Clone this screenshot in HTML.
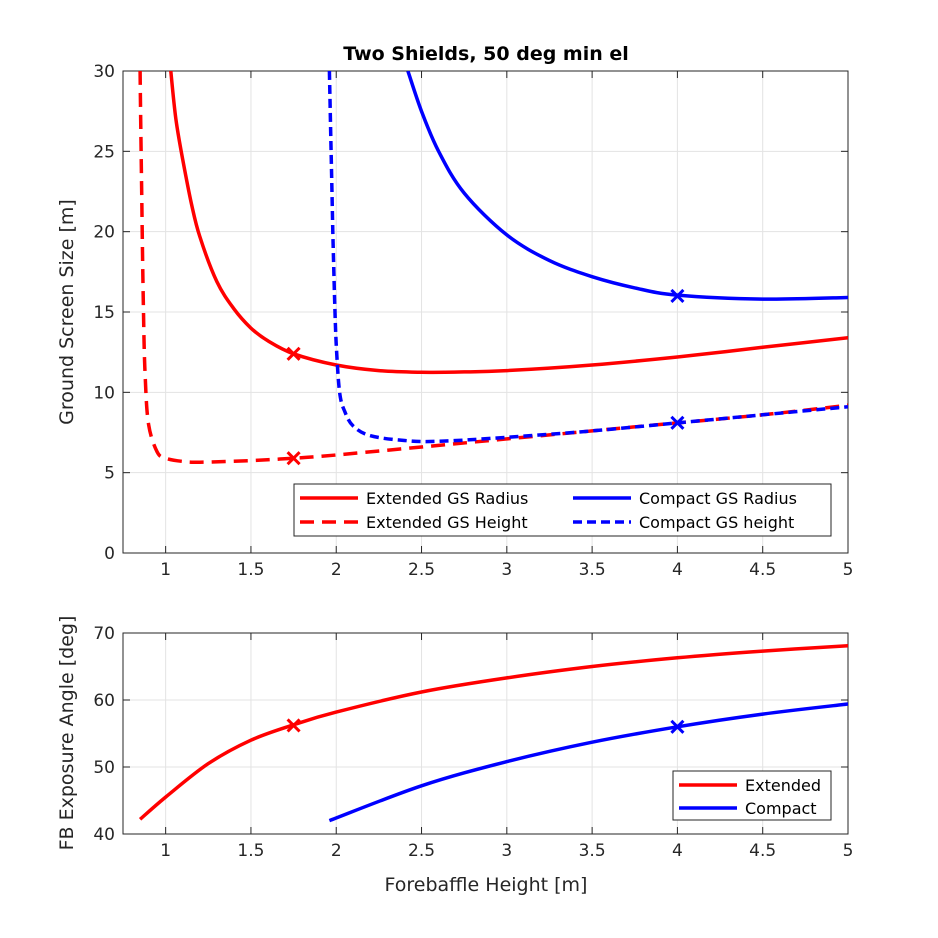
<!DOCTYPE html>
<html><head><meta charset="utf-8"><style>
html,body{margin:0;padding:0;background:#fff;}
svg{display:block;font-family:"DejaVu Sans","Liberation Sans",sans-serif;}
</style></head><body>
<svg id="chart" width="938" height="938" viewBox="0 0 938 938"></svg>
<script>
const xTicks=[1,1.5,2,2.5,3,3.5,4,4.5,5];
const xTickLabels=["1","1.5","2","2.5","3","3.5","4","4.5","5"];
const topYTicks=[0,5,10,15,20,25,30];
const botYTicks=[40,50,60,70];
const extRadX=[1.03,1.06,1.1,1.15,1.2,1.3,1.4,1.5,1.6,1.75,2,2.25,2.5,2.75,3,3.5,4,4.5,5];
const extRadY=[30,27,24.5,21.8,19.7,16.9,15.2,14.0,13.2,12.4,11.7,11.35,11.25,11.27,11.35,11.7,12.2,12.8,13.4];
const extHtX=[0.85,0.86,0.87,0.88,0.9,0.95,1.0,1.1,1.2,1.5,1.75,2,2.5,3,3.5,4,4.5,5];
const extHtY=[30,22,15,11,8,6.3,5.9,5.7,5.65,5.75,5.9,6.1,6.6,7.1,7.6,8.1,8.6,9.2];
const cmpRadX=[2.42,2.5,2.6,2.75,3,3.25,3.5,3.75,4,4.5,5];
const cmpRadY=[30,27.5,25,22.4,19.8,18.2,17.2,16.5,16.05,15.8,15.9];
const cmpHtX=[1.96,1.97,1.98,1.99,2.0,2.02,2.05,2.1,2.2,2.4,2.6,3,3.5,4,4.5,5];
const cmpHtY=[30,25,20,16,13,10,8.8,7.9,7.3,7.0,6.95,7.2,7.6,8.1,8.6,9.1];
const extAngX=[0.85,1,1.25,1.5,1.75,2,2.5,3,3.5,4,4.5,5];
const extAngY=[42.2,45.5,50.5,54,56.3,58.2,61.2,63.3,65,66.3,67.3,68.1];
const cmpAngX=[1.96,2.5,3,3.5,4,4.5,5];
const cmpAngY=[42,47.2,50.8,53.7,56,57.9,59.4];
const topMarkX=[1.75,1.75,4,4];
const topMarkY=[12.4,5.9,16,8.1];
const topMarkC=["red","red","blue","blue"];
const botMarkX=[1.75,4];
const botMarkY=[56.2,56];
const botMarkC=["red","blue"];

const NS="http://www.w3.org/2000/svg";
const svg=document.getElementById('chart');
function el(t,a,p){const e=document.createElementNS(NS,t);for(const k in a)e.setAttribute(k,a[k]);(p||svg).appendChild(e);return e;}
const L=123,R=848;
const sx=v=>L+(v-0.75)/(4.25)*(R-L);
const T1=71,B1=553,T2=633,B2=834;
const sy1=v=>B1-(v/30)*(B1-T1);
const sy2=v=>B2-((v-40)/30)*(B2-T2);

function axes(T,B,yt,sy,name){
  const g=el('g',{});
  
  
  el('rect',{x:L,y:T,width:R-L,height:B-T,fill:'#fff',stroke:'none'},g);
  xTicks.forEach(v=>el('line',{x1:sx(v),x2:sx(v),y1:T,y2:B,stroke:'#e3e3e3','stroke-width':1},g));
  yt.forEach(v=>el('line',{x1:L,x2:R,y1:sy(v),y2:sy(v),stroke:'#e3e3e3','stroke-width':1},g));
  el('rect',{x:L,y:T,width:R-L,height:B-T,fill:'none',stroke:'#262626','stroke-width':1},g);
  xTicks.forEach((v,i)=>{
    el('line',{x1:sx(v),x2:sx(v),y1:B,y2:B-7,stroke:'#262626'},g);
    el('line',{x1:sx(v),x2:sx(v),y1:T,y2:T+7,stroke:'#262626'},g);
    const t=el('text',{x:sx(v),y:B+22,'text-anchor':'middle','font-size':17,fill:'#262626'},g);t.textContent=xTickLabels[i];
    
    
  });
  yt.forEach(v=>{
    el('line',{x1:L,x2:L+7,y1:sy(v),y2:sy(v),stroke:'#262626'},g);
    el('line',{x1:R,x2:R-7,y1:sy(v),y2:sy(v),stroke:'#262626'},g);
    const t=el('text',{x:L-8,y:sy(v)+6,'text-anchor':'end','font-size':17,fill:'#262626'},g);t.textContent=v;
    
    
  });
}
axes(T1,B1,topYTicks,sy1,'top-axes');
axes(T2,B2,botYTicks,sy2,'bottom-axes');

function clip(id,T,B){const c=el('clipPath',{id});el('rect',{x:L,y:T,width:R-L,height:B-T},c);}
clip('c1',T1,B1);clip('c2',T2,B2);
function smooth(pts){
  let d='M'+pts[0][0].toFixed(1)+','+pts[0][1].toFixed(1);
  for(let i=0;i<pts.length-1;i++){
    const p0=pts[Math.max(0,i-1)],p1=pts[i],p2=pts[i+1],p3=pts[Math.min(pts.length-1,i+2)];
    const c1=[p1[0]+(p2[0]-p0[0])/6,p1[1]+(p2[1]-p0[1])/6];
    const c2=[p2[0]-(p3[0]-p1[0])/6,p2[1]-(p3[1]-p1[1])/6];
    d+=' C'+c1.map(v=>v.toFixed(1)).join(',')+' '+c2.map(v=>v.toFixed(1)).join(',')+' '+p2[0].toFixed(1)+','+p2[1].toFixed(1);
  }
  return d;
}
function line(xs,ys,sy,col,dash,name,cp){
  const d=smooth(xs.map((x,i)=>[sx(x),sy(ys[i])]));
  const p=el('path',{d,fill:'none',stroke:col,'stroke-width':3.5,'stroke-linejoin':'round','clip-path':'url(#'+cp+')'});
  if(dash)p.setAttribute('stroke-dasharray',dash);
  
  
}
line(extRadX,extRadY,sy1,'red',null,'extended-gs-radius-line','c1');
line(extHtX,extHtY,sy1,'red','14,8','extended-gs-height-line','c1');
line(cmpRadX,cmpRadY,sy1,'blue',null,'compact-gs-radius-line','c1');
line(cmpHtX,cmpHtY,sy1,'blue','9,5','compact-gs-height-line','c1');
line(extAngX,extAngY,sy2,'red',null,'extended-angle-line','c2');
line(cmpAngX,cmpAngY,sy2,'blue',null,'compact-angle-line','c2');

function mark(x,y,c){
  const g=el('g',{stroke:c,'stroke-width':3});
  
  
  el('line',{x1:x-6,y1:y-6,x2:x+6,y2:y+6},g);el('line',{x1:x-6,y1:y+6,x2:x+6,y2:y-6},g);
}
topMarkX.forEach((x,i)=>mark(sx(x),sy1(topMarkY[i]),topMarkC[i]));
botMarkX.forEach((x,i)=>mark(sx(x),sy2(botMarkY[i]),botMarkC[i]));

function txt(s,a,name){const t=el('text',a);t.textContent=s;return t;}
txt('Two Shields, 50 deg min el',{x:486,y:60,'text-anchor':'middle','font-size':19,'font-weight':'bold',fill:'#000'},'chart-title');
txt('Ground Screen Size [m]',{x:0,y:0,transform:'translate(73,312) rotate(-90)','text-anchor':'middle','font-size':19,fill:'#262626'},'top-y-axis-title');
txt('FB Exposure Angle [deg]',{x:0,y:0,transform:'translate(73,733) rotate(-90)','text-anchor':'middle','font-size':19,fill:'#262626'},'bottom-y-axis-title');
txt('Forebaffle Height [m]',{x:486,y:891,'text-anchor':'middle','font-size':19,fill:'#262626'},'x-axis-title');

function legend(x,y,w,h,items,name){
  const g=el('g',{});
  
  
  el('rect',{x,y,width:w,height:h,fill:'#fff',stroke:'#262626','stroke-width':1},g);
  items.forEach(it=>{
    const l=el('line',{x1:it[0],x2:it[0]+58,y1:it[1],y2:it[1],stroke:it[3],'stroke-width':3.5},g);
    if(it[4])l.setAttribute('stroke-dasharray',it[4]);
    const t=el('text',{x:it[0]+66,y:it[1]+6,'font-size':16,fill:'#000'},g);t.textContent=it[2];
    
    
  });
}
legend(294,484,537,52,[[300,498,'Extended GS Radius','red'],[300,522,'Extended GS Height','red','14,8'],[573,498,'Compact GS Radius','blue'],[573,522,'Compact GS height','blue','9,5']],'top-legend');
legend(673,771,158,49,[[679,785,'Extended','red'],[679,808,'Compact','blue']],'bottom-legend');
</script>
</body></html>
